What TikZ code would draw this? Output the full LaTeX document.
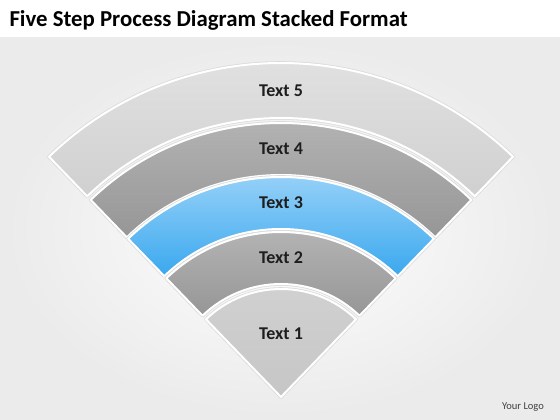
\documentclass[tikz,border=0pt]{standalone}
\usepackage{fontspec}
\setmainfont{Carlito}
\usetikzlibrary{calc}
\definecolor{mybandlight}{RGB}{228,228,228}
\definecolor{mybandlightdark}{RGB}{208,208,208}
\definecolor{mybanddark}{RGB}{184,184,184}
\definecolor{mybanddarkdark}{RGB}{150,150,150}
\definecolor{mybluelight}{RGB}{166,216,250}
\definecolor{mybluedark}{RGB}{58,168,238}
\definecolor{mytextdark}{RGB}{30,30,30}
\newcommand{\leftangle}{134}
\newcommand{\rightangle}{46}
% inner radius, outer radius, style
\newcommand{\band}[3]{
    \path[#3] (\rightangle:#2) arc[start angle=\rightangle, end angle=\leftangle, radius=#2]
        -- (\leftangle:#1) arc[start angle=\leftangle, end angle=\rightangle, radius=#1] -- cycle;
}
\tikzset{
    common/.style={draw=white, line width=2pt, line join=round,
        preaction={draw=black!14, line width=3.6pt, line join=round}},
    lightband/.style={common, top color=mybandlight, bottom color=mybandlightdark},
    darkband/.style={common, top color=mybanddark, bottom color=mybanddarkdark},
    blueband/.style={common, top color=mybluelight, bottom color=mybluedark},
    steplabel/.style={font=\fontsize{18}{21}\selectfont\bfseries, text=mytextdark}
}
\begin{document}
\begin{tikzpicture}[x=1pt, y=1pt]
    \useasboundingbox (0,0) rectangle (560,420);
    % background
    \shade[inner color=white, outer color=black!8] (0,0) rectangle (560,383);
    \fill[white] (0,383) rectangle (560,420);
    \node[anchor=base west, font=\fontsize{22.8}{26}\selectfont\bfseries, text=black] (title) at (6,393)
        {Five Step Process Diagram Stacked Format};

    \begin{scope}[shift={(281,23)}]
        \band{279}{334}{lightband}
        \band{222}{274}{darkband}
        \band{168}{220}{blueband}
        \band{113}{165}{darkband}
        \path[lightband, top color=mybandlight!92!black, bottom color=mybandlightdark!95!black] (0,0) -- (\rightangle:108)
            arc[start angle=\rightangle, end angle=\leftangle, radius=108] -- cycle;

        \node[steplabel] (t5) at (90:306) {Text 5};
        \node[steplabel] (t4) at (90:248) {Text 4};
        \node[steplabel] (t3) at (90:194) {Text 3};
        \node[steplabel] (t2) at (90:139) {Text 2};
        \node[steplabel] (t1) at (90:63) {Text 1};
    \end{scope}

    \node[font=\fontsize{10.5}{12}\selectfont, text=black!75] (logo) at (523,13) {Your Logo};
\end{tikzpicture}
\end{document}
